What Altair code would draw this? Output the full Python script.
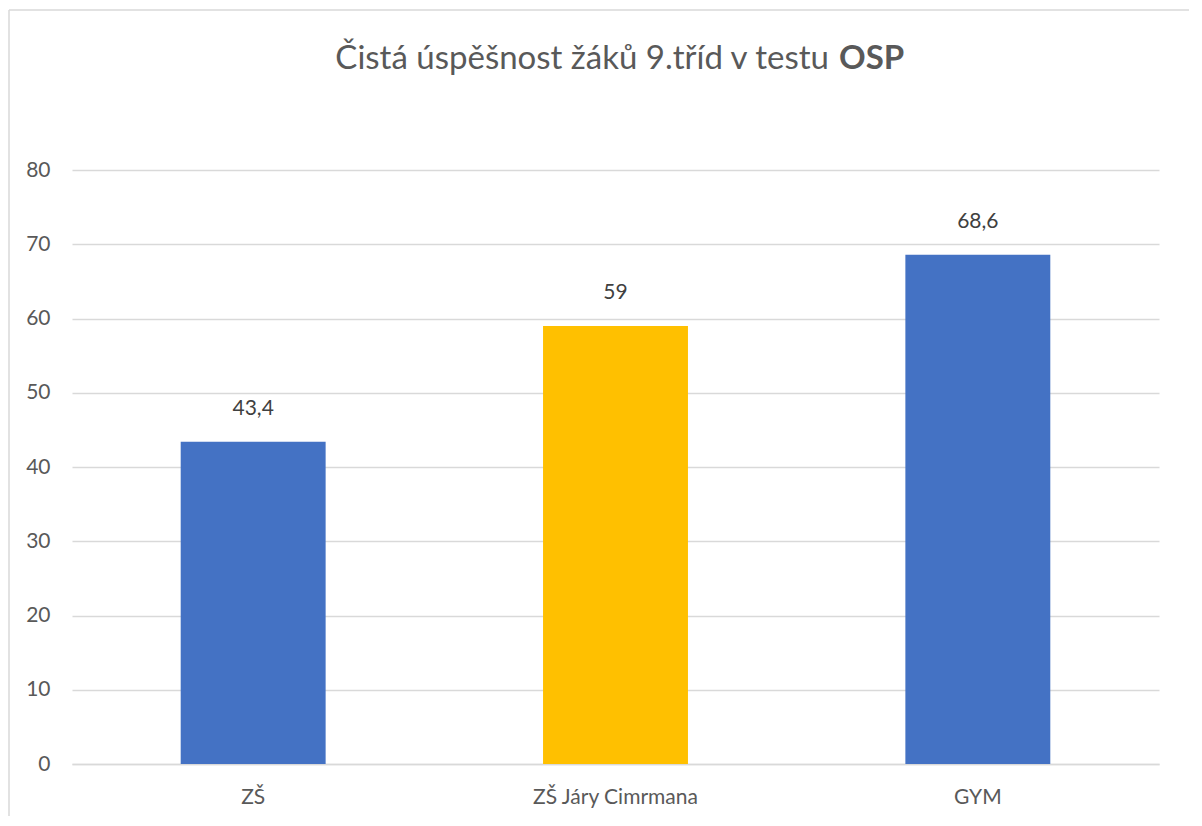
import altair as alt
import pandas as pd

categories = ["ZŠ", "ZŠ Járy Cimrmana", "GYM"]
values = [43.4, 59, 68.6]
bar_colors = ["#4472C4", "#FFC000", "#4472C4"]
y_ticks = [0, 10, 20, 30, 40, 50, 60, 70, 80]
title_main = "Čistá úspěšnost žáků 9.tříd v testu"
title_bold = "OSP"


def fmt(v):
    s = ("%g" % v)
    return s.replace(".", ",")


df = pd.DataFrame({
    "kat": categories,
    "hodnota": values,
    "barva": bar_colors,
    "popisek": [fmt(v) for v in values],
})

FONT = "Lato"
FS = 21
W, H = 1087, 594

x = alt.X(
    "kat:N",
    sort=categories,
    scale=alt.Scale(paddingInner=0.6, paddingOuter=0.3),
    axis=alt.Axis(
        title=None, labelAngle=0, ticks=False, labelPadding=22,
        domain=True, domainColor="#d9d9d9", domainWidth=1.5, grid=False,
        labelFont=FONT, labelFontSize=FS, labelColor="#595959",
    ),
)
y = alt.Y(
    "hodnota:Q",
    scale=alt.Scale(domain=[0, 80], nice=False),
    axis=alt.Axis(
        title=None, values=y_ticks, ticks=False, domain=False,
        labelPadding=22, grid=True, gridColor="#d9d9d9", gridWidth=1.3,
        labelFont=FONT, labelFontSize=FS, labelColor="#595959",
    ),
)

base = alt.Chart(df)

bars = base.mark_bar().encode(
    x=x, y=y,
    color=alt.Color("barva:N", scale=None, legend=None),
)

labels = base.mark_text(
    font=FONT, fontSize=FS, color="#404040", baseline="alphabetic", dy=-27,
).encode(x=alt.X("kat:N", sort=categories), y="hodnota:Q", text="popisek:N")

t1 = alt.Chart(pd.DataFrame({"t": [title_main]})).mark_text(
    font=FONT, fontSize=33, fontWeight="normal", color="#595959",
    align="right", baseline="alphabetic",
).encode(x=alt.value(757), y=alt.value(-101), text="t:N")

t2 = alt.Chart(pd.DataFrame({"t": [title_bold]})).mark_text(
    font=FONT, fontSize=33, fontWeight="bold", color="#595959",
    align="left", baseline="alphabetic",
).encode(x=alt.value(767), y=alt.value(-101), text="t:N")

border_left = alt.Chart(pd.DataFrame({"a": [0]})).mark_rule(
    color="#d9d9d9", strokeWidth=1.5
).encode(x=alt.value(-63), y=alt.value(-160), y2=alt.value(700))

border_top = alt.Chart(pd.DataFrame({"a": [0]})).mark_rule(
    color="#d9d9d9", strokeWidth=1.5
).encode(x=alt.value(-63), x2=alt.value(1200), y=alt.value(-160))

chart = alt.layer(bars, labels, t1, t2, border_left, border_top).properties(
    width=W, height=H,
    autosize=alt.AutoSizeParams(type="none"),
    padding={"left": 64, "top": 162, "right": 30, "bottom": 52},
).configure(background="white").configure_view(stroke=None)

chart.save("out.html", embed_options={"renderer": "svg", "actions": False})
